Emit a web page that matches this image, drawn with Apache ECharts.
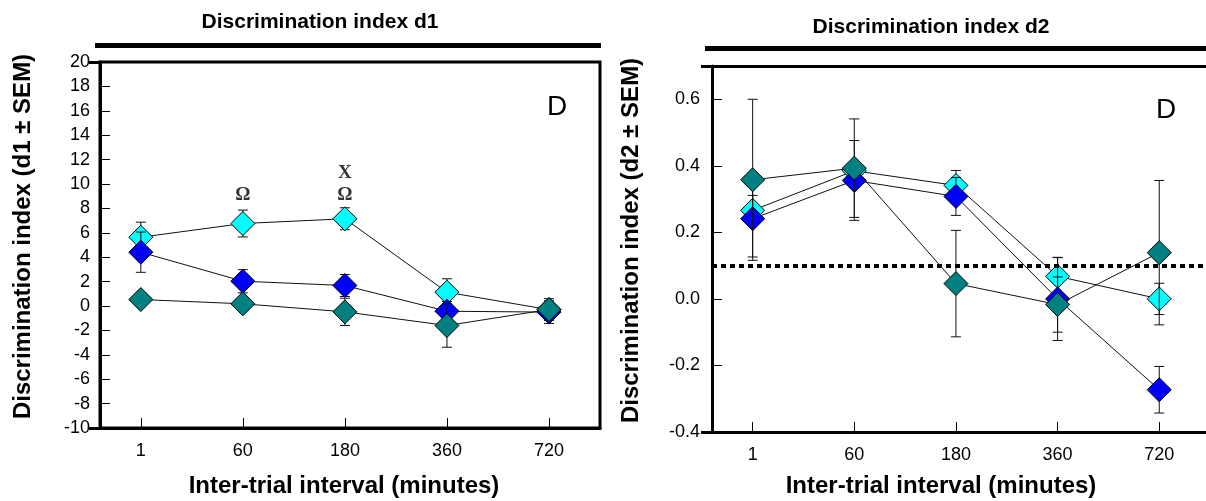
<!DOCTYPE html>
<html>
<head>
<meta charset="utf-8">
<script src="https://cdn.jsdelivr.net/npm/echarts@6/dist/echarts.min.js"></script>
<style>
  html, body { margin: 0; padding: 0; background: #fff; }
  #chart { width: 1206px; height: 501px; }
</style>
</head>
<body>
<div id="chart"></div>
<script>
// ---- data ----
const categories = ['1', '60', '180', '360', '720'];
const d1Ticks = [-10, -8, -6, -4, -2, 0, 2, 4, 6, 8, 10, 12, 14, 16, 18, 20];
const d2Ticks = [-0.4, -0.2, 0.0, 0.2, 0.4, 0.6];

// d1 panel (mean, SEM)
const d1Cyan = [5.64, 6.76, 7.15, 1.13, -0.3];
const d1CyanSem = [1.23, 1.1, 0.9, 1.1, 0.3];
const d1Blue = [4.41, 2.03, 1.68, -0.43, -0.5];
const d1BlueSem = [1.65, 0.95, 0.9, 0.8, 0.93];
const d1Teal = [0.53, 0.18, -0.48, -1.6, -0.29];
const d1TealSem = [0.5, 0.5, 1.12, 1.78, 0.89];

// d2 panel (mean, SEM)
const d2Cyan = [0.266, 0.385, 0.341, 0.068, 0.0];
const d2CyanSem = [0.045, 0.02, 0.045, 0.056, 0.047];
const d2Blue = [0.241, 0.356, 0.308, 0.0, -0.273];
const d2BlueSem = [0.115, 0.12, 0.057, 0.125, 0.07];
const d2Teal = [0.358, 0.393, 0.046, -0.017, 0.139];
const d2TealSem = [0.242, 0.148, 0.16, 0.083, 0.217];

// chance reference line for d2
const d2Reference = 0.1;

// significance annotations (d1 panel)
const annotX = [2, 3, 3];
const annotY = [9.05, 9.05, 10.9];
const annotText = ['\u03A9', '\u03A9', 'X'];

// ---- styling ----
const COLORS = { cyan: '#00FFFF', blue: '#0000FF', teal: '#008080' };
const FONT = '"Liberation Sans", Arial, sans-serif';

function errSeries(xi, yi, means, sems, z) {
  const data = means.map((m, i) => [i + 1, m - sems[i], m + sems[i]]);
  return {
    type: 'custom', xAxisIndex: xi, yAxisIndex: yi, z: z, silent: true,
    data: data,
    renderItem: function (params, api) {
      const x = api.value(0);
      const lo = api.coord([x, api.value(1)]);
      const hi = api.coord([x, api.value(2)]);
      const cw = 5;
      const st = { stroke: '#111', lineWidth: 1 };
      return {
        type: 'group',
        children: [
          { type: 'line', shape: { x1: lo[0], y1: lo[1], x2: hi[0], y2: hi[1] }, style: st },
          { type: 'line', shape: { x1: lo[0] - cw, y1: lo[1], x2: lo[0] + cw, y2: lo[1] }, style: st },
          { type: 'line', shape: { x1: hi[0] - cw, y1: hi[1], x2: hi[0] + cw, y2: hi[1] }, style: st }
        ]
      };
    }
  };
}

function lineSeries(xi, yi, means, color, z) {
  return {
    type: 'line', xAxisIndex: xi, yAxisIndex: yi, z: z, silent: true,
    data: means.map((m, i) => [i + 1, m]),
    symbol: 'diamond', symbolSize: 24,
    itemStyle: { color: color, borderColor: '#000', borderWidth: 1 },
    lineStyle: { color: '#111', width: 1 },
    emphasis: { disabled: true }
  };
}

function xAxisCfg(gi, max) {
  return {
    gridIndex: gi, type: 'value', min: 0.6, max: max, position: 'bottom',
    axisLine: { show: true, onZero: false, lineStyle: { color: '#000', width: 3 } },
    axisTick: { show: true, inside: true, length: 10, customValues: [1, 2, 3, 4, 5],
      lineStyle: { color: '#000', width: 1 } },
    axisLabel: { show: true, customValues: [1, 2, 3, 4, 5], margin: 14,
      fontSize: 18, fontFamily: FONT, color: '#000',
      formatter: v => categories[Math.round(v) - 1] },
    splitLine: { show: false }
  };
}

function xTopLine(gi, max) {
  return {
    gridIndex: gi, type: 'value', min: 0.6, max: max, position: 'top',
    axisLine: { show: true, onZero: false, lineStyle: { color: '#000', width: 3 } },
    axisTick: { show: false }, axisLabel: { show: false }, splitLine: { show: false }
  };
}

function yAxisCfg(gi, min, max, interval, ticks, margin, fmt) {
  return {
    gridIndex: gi, type: 'value', min: min, max: max, interval: interval, position: 'left',
    axisLine: { show: true, onZero: false, lineStyle: { color: '#000', width: 3 } },
    axisTick: { show: true, inside: true, length: 10, customValues: ticks,
      lineStyle: { color: '#000', width: 1 } },
    axisLabel: { show: true, customValues: ticks, margin: margin,
      fontSize: 18, fontFamily: FONT, color: '#000', formatter: fmt },
    splitLine: { show: false }
  };
}

function yEndTicks(gi, min, max) {
  return {
    gridIndex: gi, type: 'value', min: min, max: max, position: 'left',
    axisLine: { show: false },
    axisTick: { show: true, inside: false, length: 11, customValues: [min, max],
      lineStyle: { color: '#000', width: 3 } },
    axisLabel: { show: false },
    splitLine: { show: false }
  };
}

const option = {
  animation: false,
  backgroundColor: '#fff',
  grid: [
    { left: 100, top: 62, width: 500, height: 366, show: true, borderColor: '#000', borderWidth: 3, backgroundColor: 'transparent' },
    { left: 712, top: 66, right: 0, height: 366, show: false }
  ],
  xAxis: [xAxisCfg(0, 5.5), xAxisCfg(1, 5.46), xTopLine(1, 5.46)],
  yAxis: [
    yAxisCfg(0, -10, 20, 2, d1Ticks, 10, v => String(v)),
    yEndTicks(0, -10, 20),
    yAxisCfg(1, -0.4, 0.7, 0.2, d2Ticks, 12, v => v.toFixed(1)),
    yEndTicks(1, -0.4, 0.7)
  ],
  series: [
    // d1 panel
    errSeries(0, 0, d1Cyan, d1CyanSem, 2),
    lineSeries(0, 0, d1Cyan, COLORS.cyan, 3),
    errSeries(0, 0, d1Blue, d1BlueSem, 4),
    lineSeries(0, 0, d1Blue, COLORS.blue, 5),
    errSeries(0, 0, d1Teal, d1TealSem, 6),
    lineSeries(0, 0, d1Teal, COLORS.teal, 7),
    {
      type: 'scatter', xAxisIndex: 0, yAxisIndex: 0, z: 9, silent: true,
      symbolSize: 0,
      data: annotX.map((x, i) => [x, annotY[i], annotText[i]]),
      label: { show: true, position: 'inside', formatter: p => p.value[2],
        fontFamily: '"Liberation Serif", "DejaVu Serif", serif', fontWeight: 'bold',
        fontSize: 19, color: '#000' }
    },
    // d2 panel
    errSeries(1, 2, d2Cyan, d2CyanSem, 2),
    lineSeries(1, 2, d2Cyan, COLORS.cyan, 3),
    errSeries(1, 2, d2Blue, d2BlueSem, 4),
    lineSeries(1, 2, d2Blue, COLORS.blue, 5),
    errSeries(1, 2, d2Teal, d2TealSem, 6),
    lineSeries(1, 2, d2Teal, COLORS.teal, 7),
    {
      type: 'line', xAxisIndex: 1, yAxisIndex: 2, z: 10, silent: true, data: [],
      markLine: {
        silent: true, symbol: ['none', 'none'], label: { show: false },
        lineStyle: { color: '#000', type: [5, 4], width: 4 },
        data: [{ yAxis: d2Reference }]
      }
    }
  ],
  graphic: [
    { type: 'text', x: 320, y: 22.5, style: { text: 'Discrimination index d1', font: 'bold 21px ' + FONT, fill: '#000', align: 'center', verticalAlign: 'middle' } },
    { type: 'rect', shape: { x: 95, y: 43, width: 506, height: 5 }, style: { fill: '#000' } },
    { type: 'text', x: 931, y: 27.5, style: { text: 'Discrimination index d2', font: 'bold 21px ' + FONT, fill: '#000', align: 'center', verticalAlign: 'middle' } },
    { type: 'rect', shape: { x: 705, y: 46, width: 510, height: 5 }, style: { fill: '#000' } },
    { type: 'text', x: 23.5, y: 236.5, rotation: Math.PI / 2, style: { text: 'Discrimination index (d1 \u00B1 SEM)', font: 'bold 24px ' + FONT, fill: '#000', align: 'center', verticalAlign: 'middle' } },
    { type: 'text', x: 631.5, y: 240.5, rotation: Math.PI / 2, style: { text: 'Discrimination index (d2 \u00B1 SEM)', font: 'bold 24px ' + FONT, fill: '#000', align: 'center', verticalAlign: 'middle' } },
    { type: 'text', x: 344, y: 486, style: { text: 'Inter-trial interval (minutes)', font: 'bold 24px ' + FONT, fill: '#000', align: 'center', verticalAlign: 'middle' } },
    { type: 'text', x: 941, y: 486, style: { text: 'Inter-trial interval (minutes)', font: 'bold 24px ' + FONT, fill: '#000', align: 'center', verticalAlign: 'middle' } },
    { type: 'text', x: 557, y: 107, style: { text: 'D', font: '28px ' + FONT, fill: '#000', align: 'center', verticalAlign: 'middle' } },
    { type: 'text', x: 1166, y: 110, style: { text: 'D', font: '28px ' + FONT, fill: '#000', align: 'center', verticalAlign: 'middle' } }
  ]
};

const chart = echarts.init(document.getElementById('chart'), null, { renderer: 'canvas' });
chart.setOption(option);
</script>
</body>
</html>
